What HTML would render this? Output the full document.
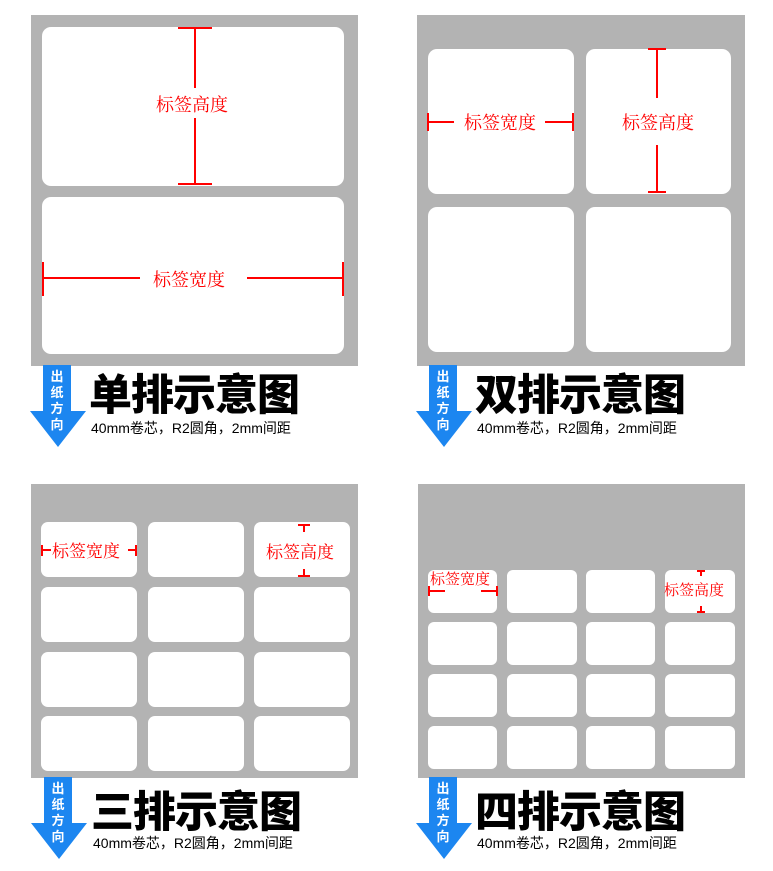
<!DOCTYPE html>
<html><head><meta charset="utf-8"><style>
body{margin:0;width:773px;height:871px;background:#fff;position:relative;overflow:hidden;font-family:"Liberation Sans","Noto Sans CJK SC",sans-serif}
.g{position:absolute;background:#b3b3b3}
.w{position:absolute;background:#fff;border-radius:9px}
.t{position:absolute;font-family:"Noto Sans CJK SC",sans-serif;font-weight:900;font-size:43px;line-height:44px;color:#000;letter-spacing:-1px;white-space:nowrap}
.s{position:absolute;font-size:14px;line-height:14px;color:#000;white-space:nowrap}
.r{position:absolute;font-family:"Noto Serif CJK SC","Liberation Serif",serif;color:#f00;white-space:nowrap}
svg{position:absolute;left:0;top:0}
.ar{position:absolute;width:58px;height:82px}
.ar .b{position:absolute;left:13px;top:0;width:28px;height:50px;background:#1c86f0}
.ar .tr{position:absolute;left:0;top:46px;width:0;height:0;border-left:28px solid transparent;border-right:28px solid transparent;border-top:36px solid #1c86f0}
.ar .x{position:absolute;left:13px;top:3px;width:28px;text-align:center;color:#fff;font-family:"Noto Sans CJK SC",sans-serif;font-weight:bold;font-size:13px;line-height:16px;z-index:2}
</style></head><body>
<div class="g" style="left:31px;top:15px;width:327px;height:351px"></div>
<div class="w" style="left:42px;top:27px;width:302px;height:159px"></div>
<div class="w" style="left:42px;top:197px;width:302px;height:157px"></div>

<div class="g" style="left:417px;top:15px;width:328px;height:351px"></div>
<div class="w" style="left:428px;top:49px;width:146px;height:145px"></div>
<div class="w" style="left:586px;top:49px;width:145px;height:145px"></div>
<div class="w" style="left:428px;top:207px;width:146px;height:145px"></div>
<div class="w" style="left:586px;top:207px;width:145px;height:145px"></div>

<div class="g" style="left:31px;top:484px;width:327px;height:294px"></div>
<div class="w" style="left:41px;top:522px;width:96px;height:55px;border-radius:7px"></div>
<div class="w" style="left:148px;top:522px;width:96px;height:55px;border-radius:7px"></div>
<div class="w" style="left:254px;top:522px;width:96px;height:55px;border-radius:7px"></div>
<div class="w" style="left:41px;top:587px;width:96px;height:55px;border-radius:7px"></div>
<div class="w" style="left:148px;top:587px;width:96px;height:55px;border-radius:7px"></div>
<div class="w" style="left:254px;top:587px;width:96px;height:55px;border-radius:7px"></div>
<div class="w" style="left:41px;top:652px;width:96px;height:55px;border-radius:7px"></div>
<div class="w" style="left:148px;top:652px;width:96px;height:55px;border-radius:7px"></div>
<div class="w" style="left:254px;top:652px;width:96px;height:55px;border-radius:7px"></div>
<div class="w" style="left:41px;top:716px;width:96px;height:55px;border-radius:7px"></div>
<div class="w" style="left:148px;top:716px;width:96px;height:55px;border-radius:7px"></div>
<div class="w" style="left:254px;top:716px;width:96px;height:55px;border-radius:7px"></div>

<div class="g" style="left:418px;top:484px;width:327px;height:294px"></div>
<div class="w" style="left:428px;top:570px;width:69px;height:43px;border-radius:6px"></div>
<div class="w" style="left:507px;top:570px;width:70px;height:43px;border-radius:6px"></div>
<div class="w" style="left:586px;top:570px;width:69px;height:43px;border-radius:6px"></div>
<div class="w" style="left:665px;top:570px;width:70px;height:43px;border-radius:6px"></div>
<div class="w" style="left:428px;top:622px;width:69px;height:43px;border-radius:6px"></div>
<div class="w" style="left:507px;top:622px;width:70px;height:43px;border-radius:6px"></div>
<div class="w" style="left:586px;top:622px;width:69px;height:43px;border-radius:6px"></div>
<div class="w" style="left:665px;top:622px;width:70px;height:43px;border-radius:6px"></div>
<div class="w" style="left:428px;top:674px;width:69px;height:43px;border-radius:6px"></div>
<div class="w" style="left:507px;top:674px;width:70px;height:43px;border-radius:6px"></div>
<div class="w" style="left:586px;top:674px;width:69px;height:43px;border-radius:6px"></div>
<div class="w" style="left:665px;top:674px;width:70px;height:43px;border-radius:6px"></div>
<div class="w" style="left:428px;top:726px;width:69px;height:43px;border-radius:6px"></div>
<div class="w" style="left:507px;top:726px;width:70px;height:43px;border-radius:6px"></div>
<div class="w" style="left:586px;top:726px;width:69px;height:43px;border-radius:6px"></div>
<div class="w" style="left:665px;top:726px;width:70px;height:43px;border-radius:6px"></div>

<svg width="773" height="871" stroke="#f00" stroke-width="2" fill="none">
<path d="M195 28V88M195 118V184M178 28H212M178 184H212"/>
<path d="M43 278H140M247 278H343M43 262V296M343 262V296"/>
<path d="M428 122H454M573 122H545M428 113V131M573 113V131"/>
<path d="M657 49V98M657 145V192M648 49H666M648 192H666"/>
<path d="M42 550H51M128 550H136M42 545V556M136 545V556"/>
<path d="M304 525V532M304 569V576M298 525H310M298 576H310"/>
<path d="M429 591H445M481 591H497M429 586V596M497 586V596"/>
<path d="M701 571V576M701 606V612M697 571H705M697 612H705"/>
</svg>

<div class="r" style="left:156px;top:91px;font-size:18px">标签高度</div>
<div class="r" style="left:153px;top:266px;font-size:18px">标签宽度</div>
<div class="r" style="left:464px;top:109px;font-size:18px">标签宽度</div>
<div class="r" style="left:622px;top:109px;font-size:18px">标签高度</div>
<div class="r" style="left:52px;top:537px;font-size:17px">标签宽度</div>
<div class="r" style="left:266px;top:538px;font-size:17px">标签高度</div>
<div class="r" style="left:430px;top:568px;font-size:15px">标签宽度</div>
<div class="r" style="left:664px;top:579px;font-size:15px">标签高度</div>

<div class="ar" style="left:30px;top:365px"><div class="b"></div><div class="tr"></div><div class="x">出<br>纸<br>方<br>向</div></div>
<div class="ar" style="left:416px;top:365px"><div class="b"></div><div class="tr"></div><div class="x">出<br>纸<br>方<br>向</div></div>
<div class="ar" style="left:31px;top:777px"><div class="b"></div><div class="tr"></div><div class="x">出<br>纸<br>方<br>向</div></div>
<div class="ar" style="left:416px;top:777px"><div class="b"></div><div class="tr"></div><div class="x">出<br>纸<br>方<br>向</div></div>

<div class="t" style="left:89px;top:370px">单排示意图</div>
<div class="t" style="left:475px;top:370px">双排示意图</div>
<div class="t" style="left:91px;top:787px">三排示意图</div>
<div class="t" style="left:475px;top:787px">四排示意图</div>
<div class="s" style="left:91px;top:421px">40mm卷芯，R2圆角，2mm间距</div>
<div class="s" style="left:477px;top:421px">40mm卷芯，R2圆角，2mm间距</div>
<div class="s" style="left:93px;top:836px">40mm卷芯，R2圆角，2mm间距</div>
<div class="s" style="left:477px;top:836px">40mm卷芯，R2圆角，2mm间距</div>
</body></html>
